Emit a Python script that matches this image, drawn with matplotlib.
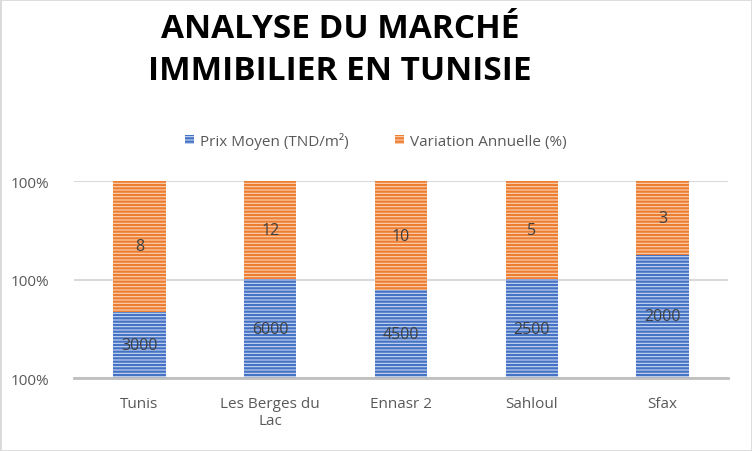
import matplotlib.pyplot as plt
import numpy as np
from matplotlib.patches import Rectangle

plt.rcParams['font.family'] = ['Open Sans', 'DejaVu Sans']
plt.rcParams['hatch.linewidth'] = 1.6

villes = ['Tunis', 'Les Berges du\nLac', 'Ennasr 2', 'Sahloul', 'Sfax']
prix = np.array([3000, 6000, 4500, 2500, 2000])
variation = np.array([8, 12, 10, 5, 3])

# 100% stacked, log axis (as in the original sheet)
total = prix + variation
part_prix = prix / total
ymin, ymax = 0.996, 1.0

fig = plt.figure(figsize=(7.52, 4.52), dpi=100)
fig.patches.append(Rectangle((0, 0), 1, 1, transform=fig.transFigure,
                             fill=False, edgecolor='#d9d9d9', linewidth=2))
ax = fig.add_axes([0.0984, 0.1615, 0.8696, 0.4358])
ax.set_yscale('log')

x = np.arange(len(villes))
w = 0.4
b1 = ax.bar(x, part_prix - ymin, bottom=ymin, width=w, color='#c9d7f0',
            edgecolor='#4472c4', hatch='-----', linewidth=0,
            label='Prix Moyen (TND/m²)', zorder=2)
b2 = ax.bar(x, 1.0 - part_prix, bottom=part_prix, width=w, color='#fbd3b5',
            edgecolor='#ed7d31', hatch='-----', linewidth=0,
            label='Variation Annuelle (%)', zorder=2)

for i in range(len(villes)):
    ymid1 = np.sqrt(ymin * part_prix[i])
    ymid2 = np.sqrt(part_prix[i] * 1.0)
    ax.text(x[i], ymid1, str(prix[i]), ha='center', va='center',
            fontsize=11.5, color='#404040', zorder=3)
    ax.text(x[i], ymid2, str(variation[i]), ha='center', va='center',
            fontsize=11.5, color='#404040', zorder=3)

ax.set_ylim(ymin, ymax)
ax.set_xlim(-0.5, len(villes) - 0.5)
ticks = [ymin, np.sqrt(ymin * ymax), ymax]
ax.yaxis.set_major_locator(plt.FixedLocator(ticks))
ax.yaxis.set_minor_locator(plt.NullLocator())
ax.set_yticks(ticks)
ax.set_yticklabels(['100%', '100%', '100%'])
ax.yaxis.set_minor_formatter(plt.NullFormatter())
ax.set_xticks(x)
ax.set_xticklabels(villes, multialignment='center')
ax.tick_params(axis='both', length=0, labelsize=11, colors='#595959', pad=13)
ax.tick_params(axis='y', pad=18)
ax.grid(axis='y', color='#d9d9d9', linewidth=1.5, zorder=0)
for s in ['top', 'right', 'left']:
    ax.spines[s].set_visible(False)
ax.spines['bottom'].set_color('#bfbfbf')
ax.spines['bottom'].set_linewidth(2)

fig.text(0.452, 0.934, 'ANALYSE DU MARCHÉ', ha='center', va='center',
         fontsize=24, fontweight='bold', color='black')
fig.text(0.452, 0.841, 'IMMIBILIER EN TUNISIE', ha='center', va='center',
         fontsize=24, fontweight='bold', color='black')

fig.legend(handles=[b1, b2], loc='center', bbox_to_anchor=(0.5, 0.687),
           ncol=2, frameon=False, fontsize=11, labelcolor='#595959',
           handlelength=0.6, handleheight=0.6, columnspacing=3, handletextpad=0.4)

plt.savefig('out.png', dpi=100)
